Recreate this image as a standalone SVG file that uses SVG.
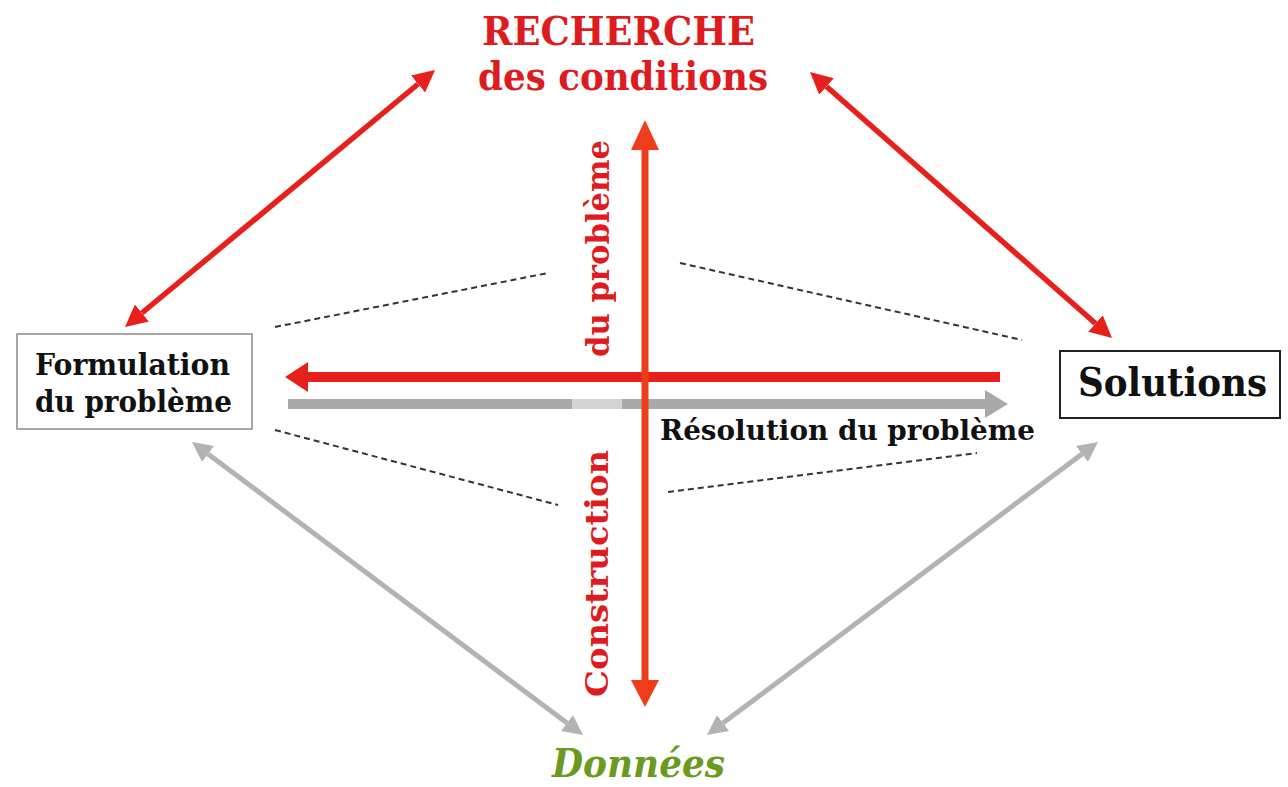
<svg xmlns="http://www.w3.org/2000/svg" width="1288" height="787" viewBox="0 0 1288 787">
<style>
.t{font-family:"DejaVu Serif","Liberation Serif",serif;font-weight:bold}
.red{fill:#de1b1f}
.blk{fill:#111}
.dash{stroke:#333;stroke-width:2;stroke-dasharray:6 4;fill:none}
.rdiag{stroke:#e8201c;stroke-width:5.5;fill:none}
.gdiag{stroke:#b3b3b3;stroke-width:5;fill:none}
</style>
<defs>
<marker id="hr" viewBox="0 0 22 22" refX="0" refY="11" markerWidth="22" markerHeight="22" markerUnits="userSpaceOnUse" orient="auto-start-reverse"><path d="M0,0 L22,11 L0,22 z" fill="#e8201c"/></marker>
<marker id="hg" viewBox="0 0 20 20" refX="0" refY="10" markerWidth="20" markerHeight="20" markerUnits="userSpaceOnUse" orient="auto-start-reverse"><path d="M0,0 L20,10 L0,20 z" fill="#b3b3b3"/></marker>
</defs>
<rect width="1288" height="787" fill="#fff"/>
<g id="connectors">
<line class="rdiag" x1="141.9" y1="313" x2="418.1" y2="84" marker-start="url(#hr)" marker-end="url(#hr)"/>
<line class="rdiag" x1="826.5" y1="86.5" x2="1095.5" y2="323.5" marker-start="url(#hr)" marker-end="url(#hr)"/>
<line class="gdiag" x1="208" y1="454" x2="567" y2="723" marker-start="url(#hg)" marker-end="url(#hg)"/>
<line class="gdiag" x1="1082" y1="454" x2="723" y2="723" marker-start="url(#hg)" marker-end="url(#hg)"/>
<line class="dash" x1="275" y1="327" x2="548" y2="273"/>
<line class="dash" x1="680" y1="263" x2="1022" y2="340"/>
<line class="dash" x1="275" y1="430" x2="558" y2="505"/>
<line class="dash" x1="668" y1="492" x2="977" y2="453"/>
<g id="gray-arrow">
<rect x="288" y="399" width="697" height="10" fill="#a9a9a9"/>
<rect x="572" y="399" width="50" height="10" fill="#d4d4d4"/>
<path d="M985,390 L1008,404 L985,418 z" fill="#a9a9a9"/>
</g>
<g id="red-arrow">
<rect x="306" y="372" width="694" height="10" fill="#e8201c"/>
<path d="M308,362 L285,377 L308,392 z" fill="#e8201c"/>
</g>
<g id="vertical-arrow">
<rect x="641.5" y="148" width="7" height="534" fill="#ef3d1b"/>
<path d="M631,150 L645,120 L659,150 z" fill="#ef3d1b"/>
<path d="M631,680 L645,707 L659,680 z" fill="#ef3d1b"/>
</g>
</g>
<g id="recherche">
<text class="t red" x="482" y="45" font-size="39" textLength="273" lengthAdjust="spacingAndGlyphs">RECHERCHE</text>
<text class="t red" x="478" y="90" font-size="39" textLength="290" lengthAdjust="spacingAndGlyphs">des conditions</text>
</g>
<g id="formulation">
<rect x="17" y="334" width="235" height="95" fill="#fff" stroke="#8a8a8a" stroke-width="1.5"/>
<text class="t blk" x="35" y="375" font-size="29" textLength="195" lengthAdjust="spacingAndGlyphs">Formulation</text>
<text class="t blk" x="35" y="412" font-size="29" textLength="197" lengthAdjust="spacingAndGlyphs">du problème</text>
</g>
<g id="solutions">
<rect x="1060" y="351" width="220" height="67" fill="#fff" stroke="#222" stroke-width="2"/>
<text class="t blk" x="1078" y="396" font-size="40" textLength="189" lengthAdjust="spacingAndGlyphs">Solutions</text>
</g>
<g id="resolution">
<text class="t blk" x="660" y="440" font-size="28" textLength="375" lengthAdjust="spacingAndGlyphs">Résolution du problème</text>
</g>
<g id="construction">
<text class="t red" transform="translate(609,357) rotate(-90)" font-size="31" textLength="217" lengthAdjust="spacingAndGlyphs">du  problème</text>
<text class="t red" transform="translate(608,697) rotate(-90)" font-size="31" textLength="247" lengthAdjust="spacingAndGlyphs">Construction</text>
</g>
<g id="donnees">
<text class="t" x="552" y="777" font-size="40" font-style="italic" fill="#6a9a1e" textLength="173" lengthAdjust="spacingAndGlyphs">Données</text>
</g>
</svg>
